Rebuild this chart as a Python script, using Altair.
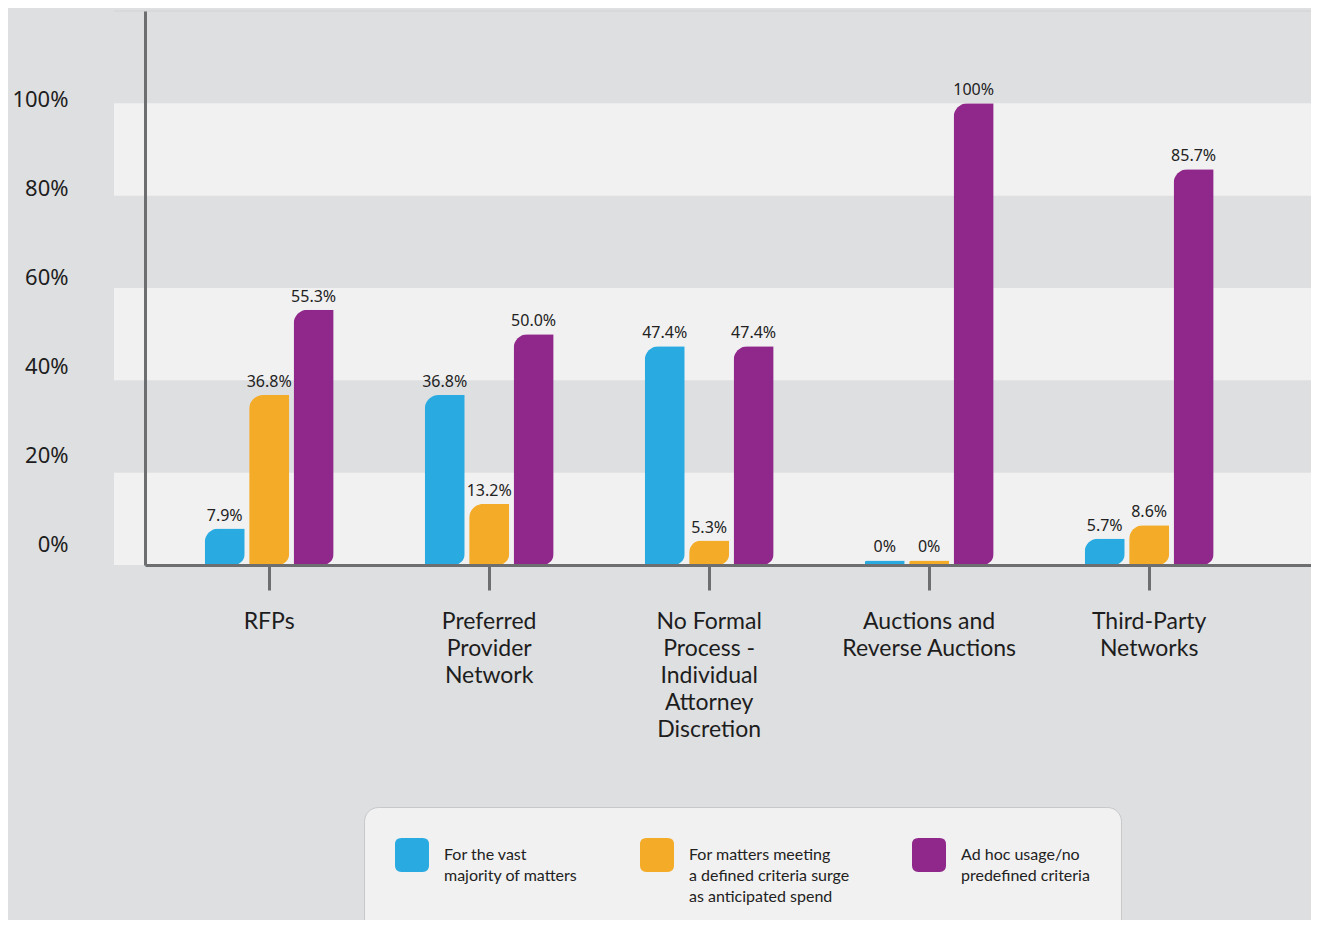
import altair as alt
import pandas as pd

# ---- data ----
categories = [
    "RFPs",
    "Preferred|Provider|Network",
    "No Formal|Process -|Individual|Attorney|Discretion",
    "Auctions and|Reverse Auctions",
    "Third-Party|Networks",
]
series = [
    "For the vast|majority of matters",
    "For matters meeting|a defined criteria surge|as anticipated spend",
    "Ad hoc usage/no|predefined criteria",
]
vast_majority = [7.9, 36.8, 47.4, 0, 5.7]
criteria_surge = [36.8, 13.2, 5.3, 0, 8.6]
ad_hoc = [55.3, 50.0, 47.4, 100, 85.7]
colors = ["#29abe2", "#f4ab27", "#90278b"]

y_ticks = [0, 20, 40, 60, 80, 100]
band_lo = [0, 40, 80]
band_hi = [20, 60, 100]
top_line = [120]

rows = []
for s, vals in zip(series, [vast_majority, criteria_surge, ad_hoc]):
    for c, v in zip(categories, vals):
        rows.append({"category": c, "series": s, "value": v})
df = pd.DataFrame(rows)
bands_df = pd.DataFrame({"lo": band_lo, "hi": band_hi})

W, H = 1166, 554
AXIS_GRAY = "#6d6e70"
CAT_FONT = "Lato"
NUM_FONT = "Noto Sans"

yscale = alt.Scale(domain=[0, 120], nice=False, zero=False)

x_enc = alt.X(
    "category:N",
    sort=categories,
    scale=alt.Scale(paddingInner=0.414, paddingOuter=0.357, align=0.38),
    axis=alt.Axis(
        title=None,
        labelExpr="split(datum.label, '|')",
        labelAngle=0,
        labelFont=CAT_FONT,
        labelFontSize=23,
        labelColor="#1d1d1d",
        labelLineHeight=27,
        labelPadding=20,
        labelBaseline="top",
        labelLimit=400,
        tickSize=25,
        tickWidth=3,
        tickColor=AXIS_GRAY,
        domainColor=AXIS_GRAY,
        domainWidth=3,
        grid=False,
        zindex=1,
    ),
)

rounded_square = (
    "M -0.62,-1 L 0.62,-1 Q 1,-1 1,-0.62 L 1,0.62 Q 1,1 0.62,1 "
    "L -0.62,1 Q -1,1 -1,0.62 L -1,-0.62 Q -1,-1 -0.62,-1 Z"
)

color_enc = alt.Color(
    "series:N",
    sort=series,
    scale=alt.Scale(domain=series, range=colors),
    legend=alt.Legend(
        title=None,
        orient="none",
        legendX=219,
        legendY=796,
        direction="horizontal",
        symbolType=rounded_square,
        symbolSize=1156,
        symbolStrokeWidth=0,
        symbolOpacity=1,
        labelExpr="length(split(datum.label, '|')) < 3 ? split(datum.label + '| ', '|') : split(datum.label, '|')",
        labelFont=CAT_FONT,
        labelFontSize=16,
        labelColor="#222222",
        labelOffset=15,
        labelLimit=400,
        columnPadding=62,
        padding=31,
        fillColor="#f1f1f1",
        strokeColor="#c7c8ca",
        cornerRadius=14,
    ),
)

bands = alt.Chart(bands_df).mark_rect(color="#f1f1f1").encode(
    x=alt.value(-31),
    x2=alt.value(W),
    y=alt.Y("lo:Q", scale=yscale, axis=None),
    y2="hi:Q",
)

top_rule = alt.Chart(pd.DataFrame({"y": top_line})).mark_rule(
    color="#d2d3d5", strokeWidth=1.2
).encode(
    x=alt.value(-31),
    x2=alt.value(W),
    y=alt.Y("y:Q", scale=yscale, axis=None),
)

base = alt.Chart(df).transform_calculate(
    h="max(datum.value, 1)",
    lbl="datum.value == 0 ? '0%' : (datum.value == 100 ? '100%' : format(datum.value, '.1f') + '%')",
)

x_off = alt.XOffset("series:N", sort=series, scale=alt.Scale(paddingInner=0.1, paddingOuter=0))

bars = base.mark_bar(cornerRadiusTopLeft=14, cornerRadiusBottomRight=11).encode(
    x=x_enc,
    xOffset=x_off,
    y=alt.Y("h:Q", scale=yscale, axis=None),
    color=color_enc,
)

texts = base.mark_text(
    font=NUM_FONT, fontSize=16, color="#222222", baseline="alphabetic", dy=-8
).encode(
    x=alt.X("category:N", sort=categories),
    xOffset=x_off,
    y=alt.Y("h:Q", scale=yscale, axis=None),
    text="lbl:N",
)

label_axis = alt.Chart(pd.DataFrame({"t": y_ticks})).mark_point(opacity=0).encode(
    y=alt.Y(
        "t:Q",
        scale=alt.Scale(domain=[-4.5, 120], nice=False, zero=False),
        axis=alt.Axis(
            orient="left",
            values=y_ticks,
            labelExpr="datum.value + '%'",
            ticks=False,
            grid=False,
            domainColor=AXIS_GRAY,
            domainWidth=3,
            labelPadding=77,
            labelFont=NUM_FONT,
            labelFontSize=22,
            labelColor="#1d1d1d",
            title=None,
            zindex=1,
        ),
    )
)

chart = (
    alt.layer(bands, top_rule, bars, texts, label_axis)
    .resolve_scale(y="independent")
    .properties(
        width=W,
        height=H,
        autosize=alt.AutoSizeParams(type="none"),
        padding={"left": 137, "top": 3, "right": 0, "bottom": 912 - 3 - H},
        background="#dedfe1",
    )
    .configure_view(stroke=None)
    .configure(style={"guide-label": {"lineHeight": 21}})
)

chart.save("out.html", embed_options={"renderer": "svg", "actions": False})
